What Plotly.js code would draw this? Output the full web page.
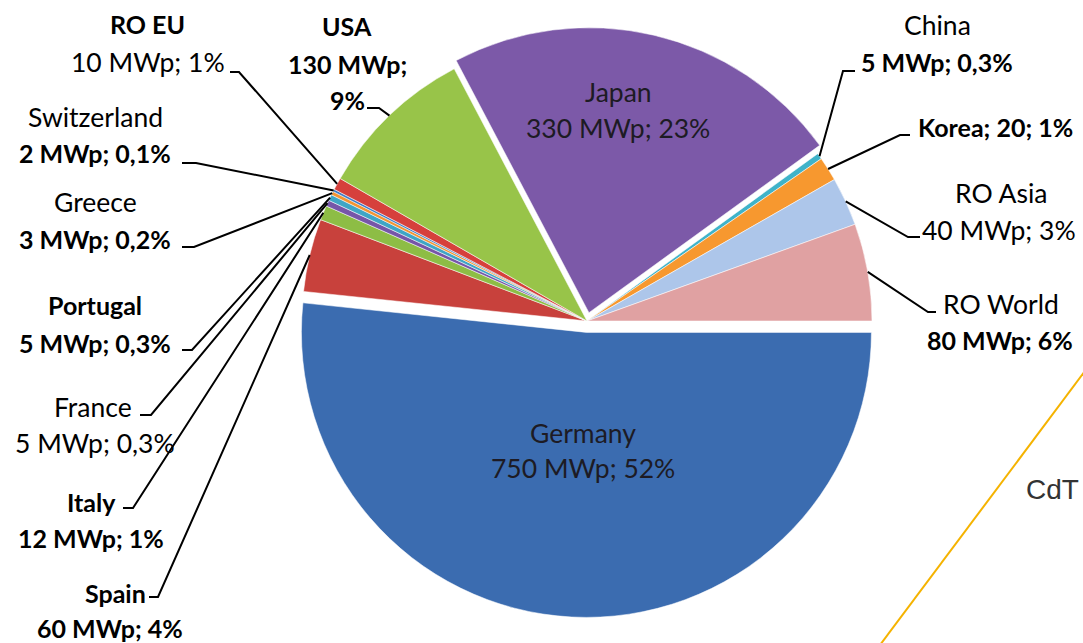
<!DOCTYPE html>
<html>
<head>
<meta charset="utf-8">
<script src="https://cdn.plot.ly/plotly-3.0.1.min.js"></script>
<style>
  html, body { margin: 0; padding: 0; background: #ffffff; }
  #chart { width: 1083px; height: 643px; }
</style>
</head>
<body>
<div id="chart"></div>
<script>
// Installed PV capacity by country / region (MWp) and the shares shown on the labels
const countries = ['Germany', 'Spain', 'Italy', 'France', 'Portugal', 'Greece', 'Switzerland',
                   'RO EU', 'USA', 'Japan', 'China', 'Korea', 'RO Asia', 'RO World'];
const capacityMWp = [750, 60, 12, 5, 5, 3, 2, 10, 130, 330, 5, 20, 40, 80];
const shareLabels = ['52%', '4%', '1%', '0,3%', '0,3%', '0,2%', '0,1%', '1%', '9%', '23%', '0,3%', '1%', '3%', '6%'];

const sliceColors = ['#3b6cb0', '#c8413c', '#8dbd45', '#7656a8', '#3fa6c6', '#f39431', '#3d7cc8',
                     '#d6403c', '#98c449', '#7c59a8', '#3fb3c9', '#f7982f', '#adc6ea', '#e0a1a2'];
const slicePull = [0.04, 0, 0, 0, 0, 0, 0, 0, 0, 0.03, 0, 0, 0, 0];

const W = 1083, H = 643;
const FONT = 'Lato, "Open Sans", sans-serif';
const SIZE_REGULAR = 26.5;
const SIZE_BOLD = 25;

// Label placement in pixels; the text itself comes from the arrays above.
// kinds: name | value ("N MWp; p") | mwp ("N MWp;") | share | compact ("Name; N; p")
const labelPlacement = [
  { inside: true, lines: [ {k: 'name', x: 583, y: 433}, {k: 'value', x: 583, y: 468} ] },                        // Germany
  { lines: [ {k: 'name', x: 148, y: 593, a: 'right', b: true}, {k: 'value', x: 110, y: 628, b: true} ],
    leader: [[149, 597], [158, 597]] },                                                                           // Spain
  { lines: [ {k: 'name', x: 118, y: 502, a: 'right', b: true}, {k: 'value', x: 91, y: 538, b: true} ],
    leader: [[123, 508], [133, 508]] },                                                                           // Italy
  { lines: [ {k: 'name', x: 134, y: 407, a: 'right'}, {k: 'value', x: 95, y: 443} ],
    leader: [[140, 415], [151, 415]] },                                                                           // France
  { lines: [ {k: 'name', x: 95, y: 305, b: true}, {k: 'value', x: 95, y: 343, b: true} ],
    leader: [[182, 350], [192, 350]] },                                                                           // Portugal
  { lines: [ {k: 'name', x: 95, y: 202}, {k: 'value', x: 95, y: 239, b: true} ],
    leader: [[182, 247], [194, 247]] },                                                                           // Greece
  { lines: [ {k: 'name', x: 95, y: 117}, {k: 'value', x: 95, y: 153, b: true} ],
    leader: [[182, 163], [196, 163]] },                                                                           // Switzerland
  { lines: [ {k: 'name', x: 147, y: 24, b: true}, {k: 'value', x: 148, y: 62} ],
    leader: [[230, 72], [239, 72]] },                                                                             // RO EU
  { lines: [ {k: 'name', x: 347, y: 26, b: true}, {k: 'mwp', x: 347, y: 64, b: true}, {k: 'share', x: 347, y: 100, b: true} ],
    leader: [[367, 108], [379, 108]] },                                                                           // USA
  { inside: true, lines: [ {k: 'name', x: 618, y: 92}, {k: 'value', x: 618, y: 128} ] },                         // Japan
  { lines: [ {k: 'name', x: 937, y: 25}, {k: 'value', x: 937, y: 62, b: true} ],
    leader: [[855, 71], [843, 71]] },                                                                             // China
  { lines: [ {k: 'compact', x: 995, y: 127, b: true} ],
    leader: [[910, 135], [900, 135]] },                                                                           // Korea
  { lines: [ {k: 'name', x: 1001, y: 193}, {k: 'value', x: 999, y: 230} ],
    leader: [[920, 237], [908, 237]] },                                                                           // RO Asia
  { lines: [ {k: 'name', x: 1001, y: 304}, {k: 'value', x: 1000, y: 340, b: true} ],
    leader: [[936, 312], [928, 312]] }                                                                            // RO World
];

function lineText(kind, i) {
  const n = countries[i], v = capacityMWp[i], s = shareLabels[i];
  switch (kind) {
    case 'name': return n;
    case 'value': return v + ' MWp; ' + s;
    case 'mwp': return v + ' MWp;';
    case 'share': return s;
    case 'compact': return n + '; ' + v + '; ' + s;
  }
  return '';
}

const px2x = px => px / W;
const px2y = py => 1 - py / H;

// Text annotations
const annotations = [];
labelPlacement.forEach((spec, i) => {
  spec.lines.forEach(ln => {
    const txt = lineText(ln.k, i);
    annotations.push({
      xref: 'paper', yref: 'paper',
      x: px2x(ln.x), y: px2y(ln.y),
      xanchor: ln.a || 'center', yanchor: 'middle',
      showarrow: false,
      text: ln.b ? '<b>' + txt + '</b>' : txt,
      font: { family: FONT, size: ln.b ? SIZE_BOLD : SIZE_REGULAR,
              color: spec.inside ? '#1d1b24' : '#000000' }
    });
  });
});

// Fragment of the slide background at the right edge
annotations.push({
  xref: 'paper', yref: 'paper', x: px2x(1081), y: px2y(490),
  xanchor: 'right', yanchor: 'middle', showarrow: false,
  text: 'CdT', font: { family: 'Liberation Sans, Arial, sans-serif', size: 28, color: '#333333' }
});

const decoShapes = [
  { type: 'line', xref: 'paper', yref: 'paper',
    x0: px2x(880), y0: px2y(645), x1: px2x(1085), y1: px2y(371),
    line: { color: '#f5b300', width: 2 } }
];

// Pie geometry: centre (587, 321) px, radius 285 px
const PIE_CX = 587, PIE_CY = 321, PIE_R = 285;
const maxPull = Math.max.apply(null, slicePull);
const halfBox = PIE_R * (1 + maxPull);

const trace = {
  type: 'pie',
  labels: countries,
  values: capacityMWp,
  sort: false,
  direction: 'clockwise',
  rotation: 90,
  pull: slicePull,
  textinfo: 'none',
  hoverinfo: 'skip',
  showlegend: false,
  marker: { colors: sliceColors, line: { color: 'rgba(255,255,255,0.75)', width: 0.7 } },
  domain: {
    x: [px2x(PIE_CX - halfBox), px2x(PIE_CX + halfBox)],
    y: [px2y(PIE_CY + halfBox), px2y(PIE_CY - halfBox)]
  }
};

const layout = {
  width: W, height: H,
  margin: { l: 0, r: 0, t: 0, b: 0 },
  paper_bgcolor: '#ffffff',
  plot_bgcolor: '#ffffff',
  showlegend: false,
  annotations: annotations,
  shapes: decoShapes
};

// Outer edge point of each slice at its mid-angle, in px
function sliceTips(gd) {
  const tips = [];
  const cd = gd.calcdata && gd.calcdata[0];
  if (cd && cd[0] && isFinite(cd[0].cx) && cd[0].r) {
    const cx = cd[0].cx, cy = cd[0].cy;
    cd.forEach((pt, i) => {
      const idx = pt.i !== undefined ? pt.i : i;
      const k = 1 + (slicePull[idx] || 0);
      tips[idx] = [cx + pt.pxmid[0] * k, cy + pt.pxmid[1] * k];
    });
    return tips;
  }
  const total = capacityMWp.reduce((a, b) => a + b, 0);
  let acc = 0;
  capacityMWp.forEach((v, i) => {
    const a = (trace.rotation * Math.PI / 180) + 2 * Math.PI * (acc + v / 2) / total;
    acc += v;
    const k = PIE_R * (1 + slicePull[i]);
    tips[i] = [PIE_CX + k * Math.sin(a), PIE_CY - k * Math.cos(a)];
  });
  return tips;
}

const gd = document.getElementById('chart');
Plotly.newPlot(gd, [trace], layout, { staticPlot: true }).then(() => {
  const tips = sliceTips(gd);
  const leaders = [];
  labelPlacement.forEach((spec, i) => {
    if (!spec.leader || !tips[i]) return;
    const p = [spec.leader[0], spec.leader[1], tips[i]];
    const path = p.map((q, j) => (j ? 'L ' : 'M ') + px2x(q[0]) + ' ' + px2y(q[1])).join(' ');
    leaders.push({ type: 'path', xref: 'paper', yref: 'paper', path: path,
                   line: { color: '#000000', width: 2 } });
  });
  return Plotly.relayout(gd, { shapes: decoShapes.concat(leaders) });
});
</script>
</body>
</html>
